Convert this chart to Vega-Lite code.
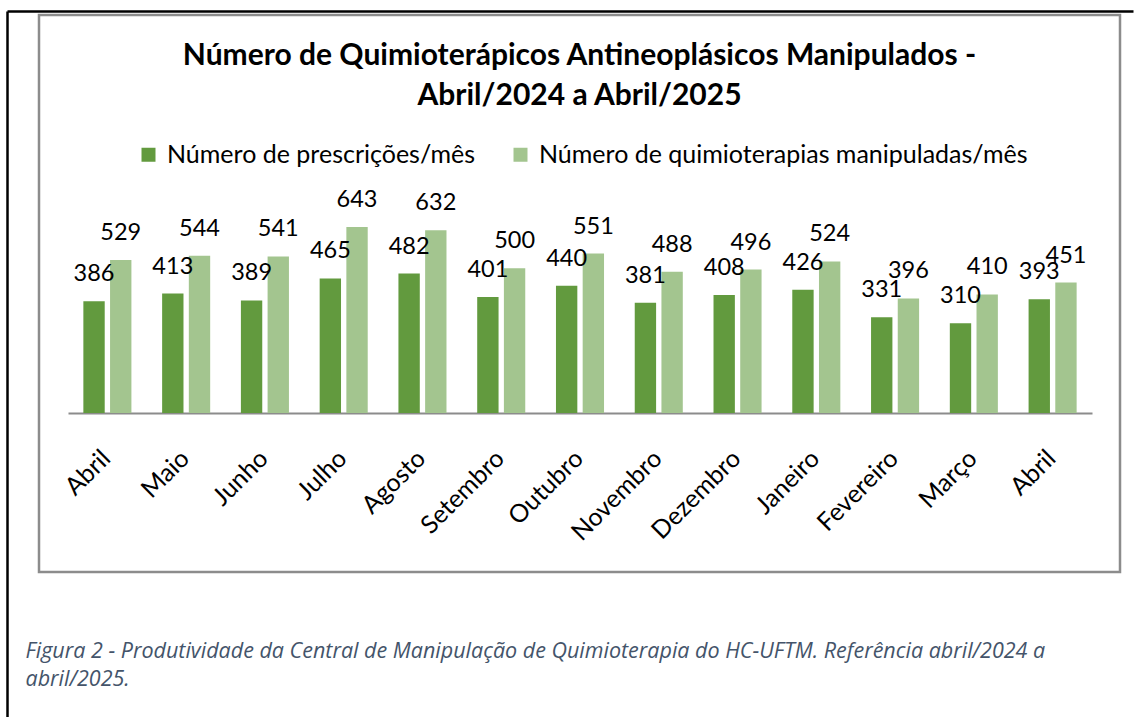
{
  "$schema": "https://vega.github.io/schema/vega-lite/v6.json",
  "width": 1081,
  "height": 557,
  "autosize": {"type": "none"},
  "padding": {"left": 39, "top": 15, "right": 18, "bottom": 145},
  "background": "white",
  "config": {"view": {"stroke": "#8c8c8c", "strokeWidth": 2.5}, "font": "Lato"},
  "title": {
    "text": ["Número de Quimioterápicos Antineoplásicos Manipulados -", "Abril/2024 a Abril/2025"],
    "anchor": "middle",
    "frame": "group",
    "font": "Lato",
    "fontSize": 30,
    "fontWeight": "bold",
    "color": "#000000",
    "lineHeight": 40,
    "offset": -100
  },
  "data": {
    "values": [
      {"mes": "Abril/2024", "serie": "Número de prescrições/mês", "valor": 386},
      {"mes": "Abril/2024", "serie": "Número de quimioterapias manipuladas/mês", "valor": 529},
      {"mes": "Maio/2024", "serie": "Número de prescrições/mês", "valor": 413},
      {"mes": "Maio/2024", "serie": "Número de quimioterapias manipuladas/mês", "valor": 544},
      {"mes": "Junho/2024", "serie": "Número de prescrições/mês", "valor": 389},
      {"mes": "Junho/2024", "serie": "Número de quimioterapias manipuladas/mês", "valor": 541},
      {"mes": "Julho/2024", "serie": "Número de prescrições/mês", "valor": 465},
      {"mes": "Julho/2024", "serie": "Número de quimioterapias manipuladas/mês", "valor": 643},
      {"mes": "Agosto/2024", "serie": "Número de prescrições/mês", "valor": 482},
      {"mes": "Agosto/2024", "serie": "Número de quimioterapias manipuladas/mês", "valor": 632},
      {"mes": "Setembro/2024", "serie": "Número de prescrições/mês", "valor": 401},
      {"mes": "Setembro/2024", "serie": "Número de quimioterapias manipuladas/mês", "valor": 500},
      {"mes": "Outubro/2024", "serie": "Número de prescrições/mês", "valor": 440},
      {"mes": "Outubro/2024", "serie": "Número de quimioterapias manipuladas/mês", "valor": 551},
      {"mes": "Novembro/2024", "serie": "Número de prescrições/mês", "valor": 381},
      {"mes": "Novembro/2024", "serie": "Número de quimioterapias manipuladas/mês", "valor": 488},
      {"mes": "Dezembro/2024", "serie": "Número de prescrições/mês", "valor": 408},
      {"mes": "Dezembro/2024", "serie": "Número de quimioterapias manipuladas/mês", "valor": 496},
      {"mes": "Janeiro/2025", "serie": "Número de prescrições/mês", "valor": 426},
      {"mes": "Janeiro/2025", "serie": "Número de quimioterapias manipuladas/mês", "valor": 524},
      {"mes": "Fevereiro/2025", "serie": "Número de prescrições/mês", "valor": 331},
      {"mes": "Fevereiro/2025", "serie": "Número de quimioterapias manipuladas/mês", "valor": 396},
      {"mes": "Março/2025", "serie": "Número de prescrições/mês", "valor": 310},
      {"mes": "Março/2025", "serie": "Número de quimioterapias manipuladas/mês", "valor": 410},
      {"mes": "Abril/2025", "serie": "Número de prescrições/mês", "valor": 393},
      {"mes": "Abril/2025", "serie": "Número de quimioterapias manipuladas/mês", "valor": 451}
    ]
  },
  "layer": [
    {
      "encoding": {
        "x": {
          "field": "mes",
          "type": "nominal",
          "sort": ["Abril/2024", "Maio/2024", "Junho/2024", "Julho/2024", "Agosto/2024", "Setembro/2024", "Outubro/2024", "Novembro/2024", "Dezembro/2024", "Janeiro/2025", "Fevereiro/2025", "Março/2025", "Abril/2025"],
          "scale": {"range": [29, 1053], "paddingInner": 0.39, "paddingOuter": 0.195},
          "axis": {
            "orient": "bottom",
            "offset": -159,
            "domain": true,
            "domainColor": "#8c8c8c",
            "domainWidth": 2,
            "ticks": false,
            "tickSize": 0,
            "grid": false,
            "labelExpr": "split(datum.label, '/')[0]",
            "labelAngle": -45,
            "labelAlign": "right",
            "labelBaseline": "middle",
            "labelPadding": 41,
            "labelOffset": -1,
            "labelFont": "Lato",
            "labelFontSize": 25,
            "labelColor": "#000000",
            "labelLimit": 400,
            "labelOverlap": false,
            "title": ["Figura 2 - Produtividade da Central de Manipulação de Quimioterapia do HC-UFTM. Referência abril/2024 a", "abril/2025."],
            "titleFont": "Open Sans",
            "titleFontStyle": "italic",
            "titleFontWeight": "normal",
            "titleFontSize": 21.5,
            "titleColor": "#44546A",
            "titleAnchor": "start",
            "titleAlign": "left",
            "titleBaseline": "alphabetic",
            "titleAngle": 0,
            "titleX": -14,
            "titleY": 244,
            "titleLineHeight": 28
          }
        },
        "xOffset": {
          "field": "serie",
          "type": "nominal",
          "sort": ["Número de prescrições/mês", "Número de quimioterapias manipuladas/mês"],
          "scale": {"paddingInner": 0.2, "paddingOuter": 0}
        },
        "y": {
          "field": "valor",
          "type": "quantitative",
          "scale": {"domain": [0, 700], "range": [398, 195.5]},
          "axis": null
        }
      },
      "layer": [
        {
          "mark": {"type": "bar"},
          "encoding": {
            "color": {
              "field": "serie",
              "type": "nominal",
              "sort": ["Número de prescrições/mês", "Número de quimioterapias manipuladas/mês"],
              "scale": {"domain": ["Número de prescrições/mês", "Número de quimioterapias manipuladas/mês"], "range": ["#629A3E", "#A3C58F"]},
              "legend": {
                "orient": "none",
                "legendX": 97,
                "legendY": 127,
                "direction": "horizontal",
                "title": null,
                "symbolType": "square",
                "symbolSize": 196,
                "symbolStrokeWidth": 0,
                "symbolOpacity": 1,
                "labelFont": "Lato",
                "labelFontSize": 25,
                "labelColor": "#000000",
                "labelLimit": 1000,
                "labelOffset": 6,
                "columnPadding": 32,
                "padding": 0
              }
            }
          }
        },
        {
          "mark": {"type": "text", "dy": -20, "baseline": "alphabetic", "font": "Lato", "fontSize": 23.5, "color": "#000000"},
          "encoding": {"text": {"field": "valor", "type": "quantitative"}}
        }
      ]
    },
    {
      "mark": {"type": "point", "opacity": 0},
      "encoding": {
        "x": {
          "field": "valor",
          "type": "quantitative",
          "scale": {"domain": [0, 1000], "range": [-32, 1094]},
          "axis": {"orient": "top", "offset": 4, "domain": true, "domainColor": "#000000", "domainWidth": 2.5, "ticks": false, "labels": false, "grid": false, "title": null}
        },
        "y": {
          "field": "valor",
          "type": "quantitative",
          "scale": {"domain": [0, 1000], "range": [702, -4]},
          "axis": {"orient": "left", "offset": 32, "domain": true, "domainColor": "#000000", "domainWidth": 2.5, "ticks": false, "labels": false, "grid": false, "title": null}
        }
      }
    }
  ],
  "resolve": {"scale": {"x": "independent", "y": "independent"}, "axis": {"x": "independent", "y": "independent"}}
}
